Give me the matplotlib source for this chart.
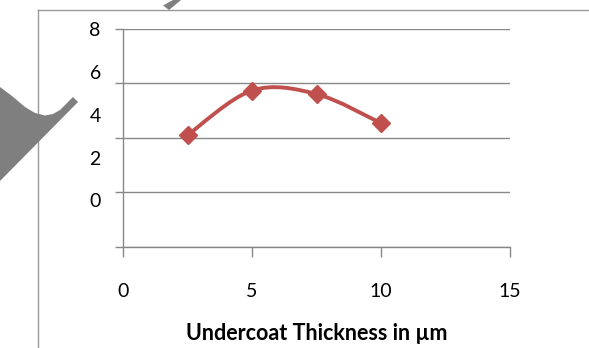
import numpy as np
import matplotlib
matplotlib.use("Agg")
import matplotlib.pyplot as plt
from matplotlib.path import Path
from matplotlib.patches import PathPatch, Polygon
from matplotlib.lines import Line2D

plt.rcParams['font.family'] = ['Lato', 'DejaVu Sans']

# data
thickness = [2.5, 5.0, 7.5, 10.0]
values = [4.1, 5.74, 5.61, 4.54]

x_ticks = [0, 5, 10, 15]
grid_levels = [0, 2, 4, 6, 8]
y_tick_labels = ['8', '6', '4', '2', '0']
# the labels sit off the gridlines in the original, at these heights
y_label_pos = [8.0, 6.42, 4.85, 3.25, 1.7]

RED = '#C0504D'
GRAY = '#888888'
W, H = 589, 348


def smooth_path(xs, ys):
    """Excel-style smoothed line: cubic bezier segments (Catmull-Rom)."""
    p = np.column_stack([xs, ys]).astype(float)
    n = len(p)
    verts = [p[0]]
    codes = [Path.MOVETO]
    for i in range(n - 1):
        p0 = p[i - 1] if i > 0 else p[i]
        p3 = p[i + 2] if i + 2 < n else p[i + 1]
        c1 = p[i] + (p[i + 1] - p0) / 6.0
        c2 = p[i + 1] - (p3 - p[i]) / 6.0
        verts += [c1, c2, p[i + 1]]
        codes += [Path.CURVE4] * 3
    return Path(verts, codes)


def px(x, y):
    return (x / W, 1 - y / H)


fig = plt.figure(figsize=(W / 100, H / 100), dpi=100)
ax = fig.add_axes([123 / W, 1 - 246.7 / H, (510 - 123) / W, (246.7 - 29) / H])

ax.add_patch(PathPatch(smooth_path(thickness, values), fill=False,
                       edgecolor=RED, lw=2.8, capstyle='round', zorder=3))
ax.plot(thickness, values, 'D', ls='none', color=RED, ms=9.5, zorder=4)

ax.set_xlim(0, 15)
ax.set_ylim(0, 8)

ax.set_xticks(x_ticks)
ax.set_xticklabels([str(t) for t in x_ticks])
ax.tick_params(axis='x', direction='out', length=7.2, width=1, color=GRAY,
               pad=19, labelsize=14)

ax.yaxis.remove_overlapping_locs = False
ax.set_yticks(y_label_pos)
ax.set_yticklabels(y_tick_labels)
ax.set_yticks(grid_levels, minor=True)
ax.tick_params(axis='y', which='major', length=0, pad=16, labelsize=14)
ax.tick_params(axis='y', which='minor', direction='out', length=5.8,
               width=1, color=GRAY)
ax.grid(which='minor', axis='y', color=GRAY, lw=1)

for s in ['top', 'right']:
    ax.spines[s].set_visible(False)
for s in ['left', 'bottom']:
    ax.spines[s].set_color(GRAY)
    ax.spines[s].set_linewidth(1)

ax.set_xlabel('Undercoat Thickness in µm', fontsize=15.5, fontweight='bold',
              va='center')
ax.xaxis.set_label_coords(0.5, (246.7 - 333) / (246.7 - 29))

# chart area border (cropped)
fig.add_artist(Line2D([38 / W, 38 / W], [1 - 10 / H, 0], color='#999999', lw=1))
fig.add_artist(Line2D([38 / W, 1], [1 - 10 / H, 1 - 10 / H], color='#999999', lw=1))

# gray watermark shapes over the chart
shape = [px(0, 87), px(12, 96), px(25, 107), px(35, 113), px(45, 115.5),
         px(53, 114), px(60, 110), px(73, 97), px(78, 102), px(0, 181)]
fig.add_artist(Polygon(shape, closed=True, transform=fig.transFigure,
                       facecolor='#7F7F7F', edgecolor='none', zorder=10))
stub = [px(163, 5.5), px(169, 10), px(181, 0), px(173, 0)]
fig.add_artist(Polygon(stub, closed=True, transform=fig.transFigure,
                       facecolor='#7F7F7F', edgecolor='none', zorder=10))

fig.savefig('out.png', dpi=100)
